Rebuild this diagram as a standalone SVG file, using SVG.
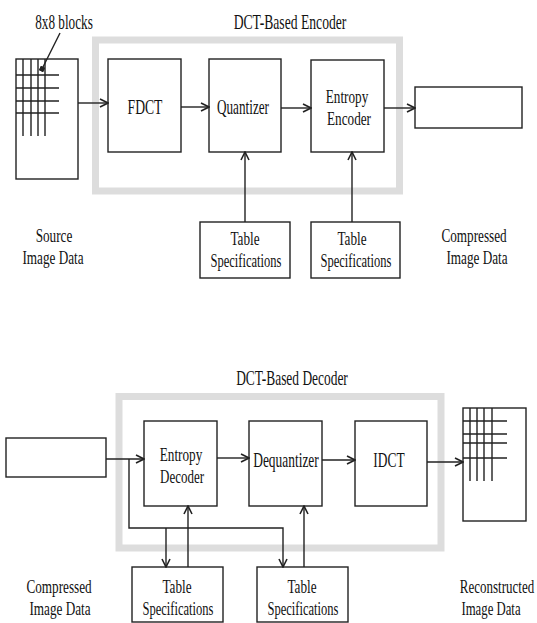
<svg xmlns="http://www.w3.org/2000/svg" width="537" height="623" viewBox="0 0 537 623">
<style>
.frame{fill:none;stroke:#dddddd;stroke-width:7}
.box{fill:#ffffff;stroke:#222;stroke-width:1.4}
.grid{stroke:#222;stroke-width:1.4;fill:none}
.ln{fill:none;stroke:#222;stroke-width:1.4}
.t{font-family:"Liberation Serif","Times New Roman",serif;font-size:22px;fill:#111;text-anchor:middle}
.t2{font-family:"Liberation Serif","Times New Roman",serif;font-size:19.8px;fill:#111;text-anchor:middle}
</style>
<defs>
<marker id="ah" viewBox="0 0 10 10" refX="9" refY="5" markerWidth="10" markerHeight="10" markerUnits="userSpaceOnUse" orient="auto">
<path d="M1,1 L9,5 L1,9" fill="none" stroke="#222" stroke-width="1.6"/>
</marker>
<marker id="dot" viewBox="0 0 6 6" refX="3" refY="3" markerWidth="5" markerHeight="5" markerUnits="userSpaceOnUse" orient="auto">
<rect x="0" y="0" width="6" height="6" fill="#222"/>
</marker>
</defs>

<!-- Encoder -->
<g id="encoder-frame">
<rect class="frame" x="95.5" y="40" width="304" height="151"/>
<text class="t" transform="translate(290,29) scale(0.62,1)">DCT-Based Encoder</text>
</g>
<g id="source-image">
<rect class="box" x="16" y="59" width="62" height="120"/>
<path class="grid" d="M23,59V136M31,59V136M38,59V136M45,59V136M16,75H59M16,88H59M16,101H59M16,113H59"/>
<text class="t" transform="translate(64,29) scale(0.6,1)">8x8 blocks</text>
<text class="t2" transform="translate(54,242) scale(0.667,1)">Source</text>
<text class="t2" transform="translate(53,264) scale(0.667,1)">Image Data</text>
</g>
<g id="fdct">
<rect class="box" x="108" y="59" width="73" height="93"/>
<text class="t" transform="translate(145,114) scale(0.62,1)">FDCT</text>
</g>
<g id="quantizer">
<rect class="box" x="209" y="59" width="72" height="93"/>
<text class="t" transform="translate(243,114) scale(0.6,1)">Quantizer</text>
</g>
<g id="entropy-encoder">
<rect class="box" x="311" y="60" width="73" height="92"/>
<text class="t2" transform="translate(347,103) scale(0.667,1)">Entropy</text>
<text class="t2" transform="translate(349,125) scale(0.667,1)">Encoder</text>
</g>
<g id="compressed-out">
<rect class="box" x="415" y="87" width="107" height="41"/>
<text class="t2" transform="translate(474,242) scale(0.667,1)">Compressed</text>
<text class="t2" transform="translate(477,264) scale(0.667,1)">Image Data</text>
</g>
<g id="enc-table1">
<rect class="box" x="200" y="222" width="90" height="56"/>
<text class="t2" transform="translate(245,245) scale(0.667,1)">Table</text>
<text class="t2" transform="translate(246,267) scale(0.633,1)">Specifications</text>
</g>
<g id="enc-table2">
<rect class="box" x="311" y="222" width="89" height="56"/>
<text class="t2" transform="translate(352,245) scale(0.667,1)">Table</text>
<text class="t2" transform="translate(356,267) scale(0.633,1)">Specifications</text>
</g>

<!-- Decoder -->
<g id="decoder-frame">
<rect class="frame" x="119" y="396.5" width="322" height="151.5"/>
<text class="t" transform="translate(292,385) scale(0.61,1)">DCT-Based Decoder</text>
</g>
<g id="compressed-in">
<rect class="box" x="6" y="438" width="100" height="39"/>
<text class="t2" transform="translate(59,593) scale(0.667,1)">Compressed</text>
<text class="t2" transform="translate(60,615) scale(0.667,1)">Image Data</text>
</g>
<g id="entropy-decoder">
<rect class="box" x="144" y="421" width="73" height="85"/>
<text class="t2" transform="translate(181,461) scale(0.667,1)">Entropy</text>
<text class="t2" transform="translate(182,483) scale(0.656,1)">Decoder</text>
</g>
<g id="dequantizer">
<rect class="box" x="249" y="421" width="73" height="85"/>
<text class="t" transform="translate(286,467) scale(0.61,1)">Dequantizer</text>
</g>
<g id="idct">
<rect class="box" x="355" y="421" width="72" height="85"/>
<text class="t" transform="translate(389,467) scale(0.61,1)">IDCT</text>
</g>
<g id="reconstructed">
<rect class="box" x="463" y="408" width="63" height="113"/>
<path class="grid" d="M470,408V481M477,408V481M484,408V481M492,408V481M463,421H507M463,434H507M463,443H507M463,458H507"/>
<text class="t2" transform="translate(497,593) scale(0.656,1)">Reconstructed</text>
<text class="t2" transform="translate(491,615) scale(0.644,1)">Image Data</text>
</g>
<g id="dec-table1">
<rect class="box" x="132" y="567" width="91" height="55"/>
<text class="t2" transform="translate(177,593) scale(0.667,1)">Table</text>
<text class="t2" transform="translate(178,615) scale(0.633,1)">Specifications</text>
</g>
<g id="dec-table2">
<rect class="box" x="257" y="567" width="91" height="55"/>
<text class="t2" transform="translate(302,593) scale(0.667,1)">Table</text>
<text class="t2" transform="translate(303,615) scale(0.633,1)">Specifications</text>
</g>

<g id="connectors">
<path class="ln" d="M60,33L42,69" marker-end="url(#dot)"/>
<path class="ln" d="M78,103H108" marker-end="url(#ah)"/>
<path class="ln" d="M181,107H209" marker-end="url(#ah)"/>
<path class="ln" d="M281,108H311" marker-end="url(#ah)"/>
<path class="ln" d="M384,108H415" marker-end="url(#ah)"/>
<path class="ln" d="M245,222V152" marker-end="url(#ah)"/>
<path class="ln" d="M352,222V152" marker-end="url(#ah)"/>

<path class="ln" d="M106,459H144" marker-end="url(#ah)"/>
<path class="ln" d="M217,458H249" marker-end="url(#ah)"/>
<path class="ln" d="M322,460H355" marker-end="url(#ah)"/>
<path class="ln" d="M427,462H463" marker-end="url(#ah)"/>
<path class="ln" d="M129,459V528H283V567" marker-end="url(#ah)"/>
<path class="ln" d="M166,528V567" marker-end="url(#ah)"/>
<path class="ln" d="M188,567V506" marker-end="url(#ah)"/>
<path class="ln" d="M304,567V506" marker-end="url(#ah)"/>
</g>
</svg>
